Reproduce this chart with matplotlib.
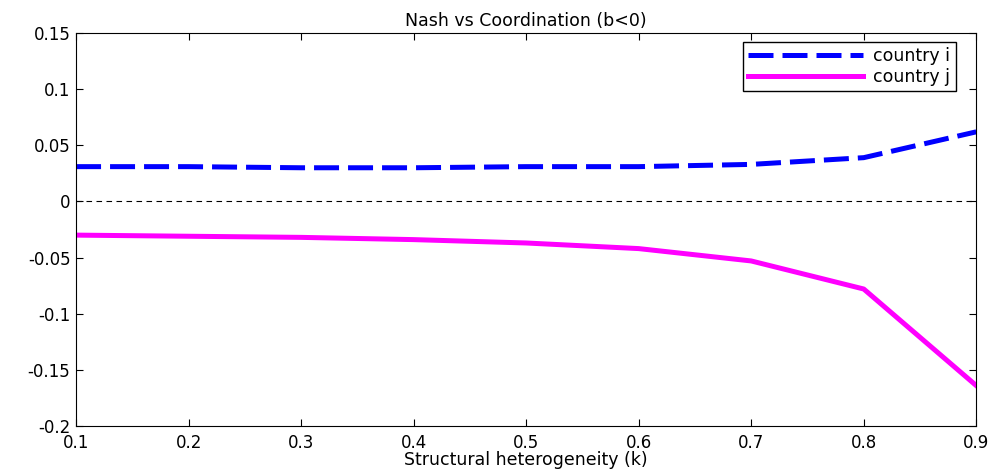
import matplotlib
matplotlib.use("Agg")
import matplotlib.pyplot as plt

k = [0.1, 0.2, 0.3, 0.4, 0.5, 0.6, 0.7, 0.8, 0.9]
country_i = [0.031, 0.031, 0.030, 0.030, 0.031, 0.031, 0.033, 0.039, 0.062]
country_j = [-0.030, -0.031, -0.032, -0.034, -0.037, -0.042, -0.053, -0.078, -0.164]
xticks = [0.1, 0.2, 0.3, 0.4, 0.5, 0.6, 0.7, 0.8, 0.9]
yticks = [-0.2, -0.15, -0.1, -0.05, 0, 0.05, 0.1, 0.15]
ytick_labels = ["-0.2", "-0.15", "-0.1", "-0.05", "0", "0.05", "0.1", "0.15"]

plt.rcParams['font.family'] = ['DejaVu Sans']
fig = plt.figure(figsize=(9.98, 4.72), dpi=100)
ax = fig.add_axes([0.0762, 0.0975, 0.902, 0.8325])

ax.axhline(0, color='black', linestyle=(0, (5, 4)), linewidth=0.8)
ax.plot(k, country_i, color='#0000ff', linestyle=(0, (5, 1.8)), linewidth=3.6, label='country i')
ax.plot(k, country_j, color='#ff00ff', linestyle='-', linewidth=3.6, label='country j')

ax.set_xlim(0.1, 0.9)
ax.set_ylim(-0.2, 0.15)
ax.set_xticks(xticks)
ax.set_xticklabels([f"{t:g}" for t in xticks])
ax.set_yticks(yticks)
ax.set_yticklabels(ytick_labels)
ax.tick_params(direction='in', top=True, right=True, labelsize=12, length=5)
ax.tick_params(axis='x', pad=6)
ax.tick_params(axis='y', pad=4)
ax.set_title('Nash vs Coordination (b<0)', fontsize=12.5, pad=5)
ax.set_xlabel('Structural heterogeneity (k)', fontsize=12.5, labelpad=-1)
leg = ax.legend(loc='upper right', fontsize=12.5, fancybox=False, edgecolor='black',
                framealpha=1, handlelength=6.6, handletextpad=0.6, borderpad=0.3,
                labelspacing=0.15, borderaxespad=0, bbox_to_anchor=(0.977, 0.977))
leg.get_frame().set_linewidth(1)
fig.savefig('out.png', dpi=100)
